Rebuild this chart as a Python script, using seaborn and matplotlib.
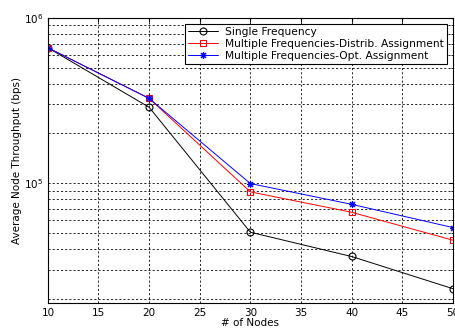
import matplotlib
matplotlib.use("Agg")
import matplotlib.pyplot as plt
import seaborn as sns
from matplotlib.ticker import LogLocator, NullFormatter

# data
nodes = [10, 20, 30, 40, 50]
single_freq = [6.6e5, 2.88e5, 5.05e4, 3.6e4, 2.3e4]
multi_distrib = [6.6e5, 3.26e5, 8.86e4, 6.67e4, 4.52e4]
multi_opt = [6.6e5, 3.26e5, 9.95e4, 7.45e4, 5.39e4]
series_names = ["Single Frequency",
                "Multiple Frequencies-Distrib. Assignment",
                "Multiple Frequencies-Opt. Assignment"]
series_colors = ["black", "red", "blue"]
series_markers = ["o", "s", (8, 2, 0)]

sns.set_style("white")
plt.rcParams["font.family"] = ["DejaVu Sans"]
plt.rcParams.update({"text.color": "black", "axes.labelcolor": "black",
                     "xtick.color": "black", "ytick.color": "black"})

fig = plt.figure(figsize=(4.56, 3.32), dpi=100)
ax = fig.add_axes([0.105, 0.087, 0.888, 0.859])

for vals, name, col, mk in zip([single_freq, multi_distrib, multi_opt],
                               series_names, series_colors, series_markers):
    sns.lineplot(x=nodes, y=vals, color=col, marker=mk, markersize=5,
                 markerfacecolor="none", markeredgecolor=col,
                 markeredgewidth=0.8, linewidth=0.7, label=name, ax=ax)

ax.set_yscale("log")
ax.set_xlim(10, 50)
ax.set_ylim(1.88e4, 1e6)
ax.set_xticks([10, 15, 20, 25, 30, 35, 40, 45, 50])
ax.yaxis.set_major_locator(LogLocator(base=10))
ax.yaxis.set_minor_locator(LogLocator(base=10, subs=range(2, 10)))
ax.yaxis.set_minor_formatter(NullFormatter())
ax.grid(True, which="both", linestyle=(0, (2.5, 2.5)), color="black", linewidth=0.6)
ax.tick_params(direction="in", top=True, right=True, labelsize=7.5, length=3)
ax.tick_params(which="minor", direction="in", right=True, length=1.5)
for s in ax.spines.values():
    s.set_color("black")
    s.set_linewidth(0.8)

ax.set_xlabel("# of Nodes", fontsize=7.5, labelpad=0)
ax.set_ylabel("Average Node Throughput (bps)", fontsize=7.5, labelpad=1)

leg = ax.legend(loc="upper right", fontsize=7.7, frameon=True,
                fancybox=False, edgecolor="black", framealpha=1,
                bbox_to_anchor=(0.985, 0.98),
                borderaxespad=0, handlelength=2.8, labelspacing=0.2,
                borderpad=0.3, handletextpad=0.6)
leg.get_frame().set_linewidth(0.8)

fig.savefig("out.png", dpi=100, facecolor="white")
